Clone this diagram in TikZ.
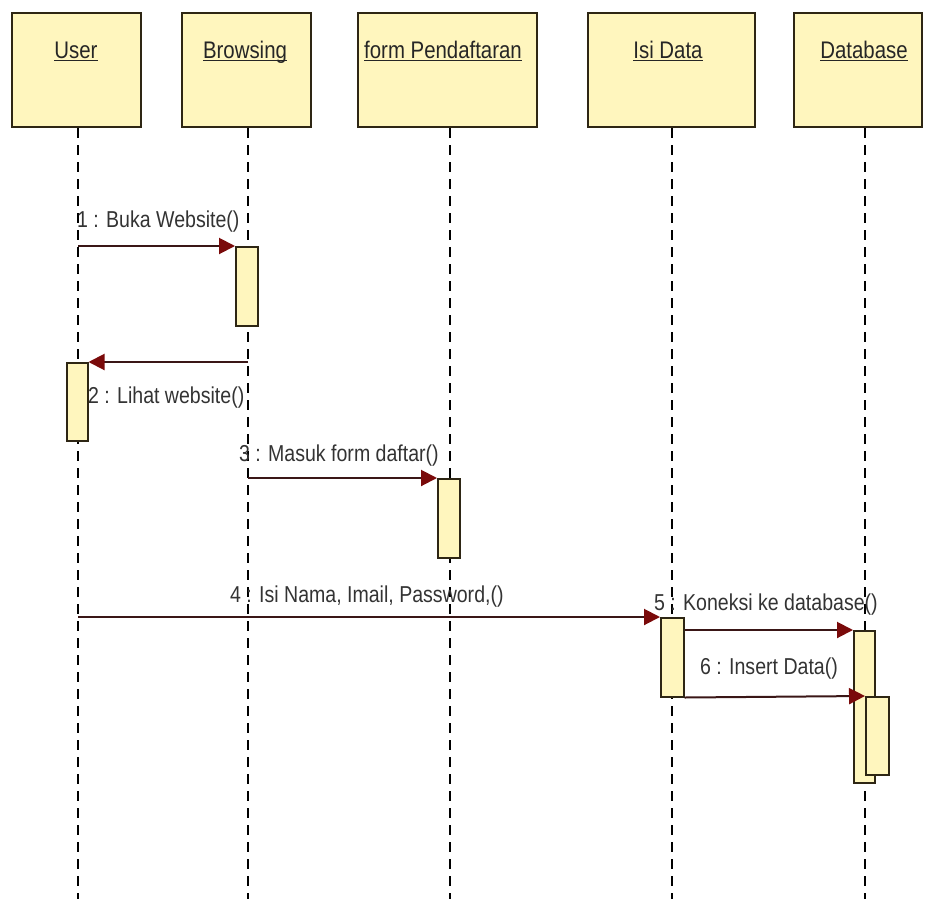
\documentclass[tikz,border=0pt]{standalone}
\usepackage{fontspec}
\setmainfont{Liberation Sans}[FakeStretch=0.85]
\usetikzlibrary{arrows.meta}

\definecolor{objFill}{HTML}{FFF6BE}
\definecolor{objLine}{HTML}{2E2614}
\definecolor{msgLine}{HTML}{3A1616}
\definecolor{msgHead}{HTML}{7A0A0A}

% underline at one height, whatever the descenders
\newcommand\objname[1]{\underline{\smash{#1}}}

\begin{document}
\begin{tikzpicture}[x=1pt, y=-1pt,
    obj/.style={draw=objLine, line width=2pt, fill=objFill, inner sep=0pt},
    act/.style={draw=objLine, line width=1.5pt, fill=objFill, inner sep=0pt,
        anchor=north west},
    life/.style={black, line width=1.5pt, dash pattern=on 10pt off 7pt},
    msg/.style={msgLine, line width=2pt,
        -{Triangle[length=16pt, width=16pt, color=msgHead]}},
    lbl/.style={font=\fontsize{23}{27}\selectfont, text=black!80, inner sep=0pt},
    hdr/.style={font=\fontsize{24}{28}\selectfont, text=black!85, inner sep=0pt,
        anchor=base},
]
\useasboundingbox (0,0) rectangle (925,899);

% object boxes along the top, with their lifelines
\foreach \nm/\xa/\xb/\tx/\lx/\txt in {user/12/141/76/78/User,
        browse/182/311/245/248/Browsing,
        form/358/537/443/450/form Pendaftaran,
        isi/588/755/668/672/Isi Data,
        db/794/922/864/865/Database} {
    \pgfmathsetmacro\w{\xb-\xa}
    \node[obj, minimum width=\w pt, minimum height=114pt]
        (\nm) at ({(\xa+\xb)/2}, 70) {};
    \node[hdr] (\nm-t) at (\tx, 59) {\objname{\txt}};
    \coordinate (\nm-end) at (\lx, 899);
    \draw[life] (\nm.south -| \nm-end) -- (\nm-end);
}

% activation bars
\node[act, minimum width=22pt, minimum height=79pt]  (a1) at (235, 246) {};
\node[act, minimum width=21pt, minimum height=78pt]  (a2) at (66, 362) {};
\node[act, minimum width=22pt, minimum height=79pt]  (a3) at (437, 478) {};
\node[act, minimum width=23pt, minimum height=79pt]  (a4) at (660, 617) {};
\node[act, minimum width=21pt, minimum height=152pt] (a5) at (853, 630) {};
\node[act, minimum width=23pt, minimum height=78pt]  (a6) at (865, 696) {};

% messages
\draw[msg] (a1.north west -| user-end) -- (a1.north west);
\node[lbl, anchor=west] (m1) at (77, 222) {1 : Buka Website()};

\draw[msg] (a2.north east -| browse-end) -- (a2.north east);
\node[lbl, anchor=west] (m2) at (88, 398) {2 : Lihat website()};

\draw[msg] (a3.north west -| browse-end) -- (a3.north west);
\node[lbl, anchor=west] (m3) at (239, 456) {3 : Masuk form daftar()};

\draw[msg] (a4.north west -| user-end) -- (a4.north west);
\node[lbl, anchor=west] (m4) at (230, 597) {4 : Isi Nama, Imail, Password,()};

\draw[msg] (a4.east |- a5.north) -- (a5.north west);
\node[lbl, anchor=west] (m5) at (654, 605) {5 : Koneksi ke database()};

\draw[msg] (a4.south east) -- (a6.north west);
\node[lbl, anchor=west] (m6) at (700, 669) {6 : Insert Data()};

\end{tikzpicture}
\end{document}
